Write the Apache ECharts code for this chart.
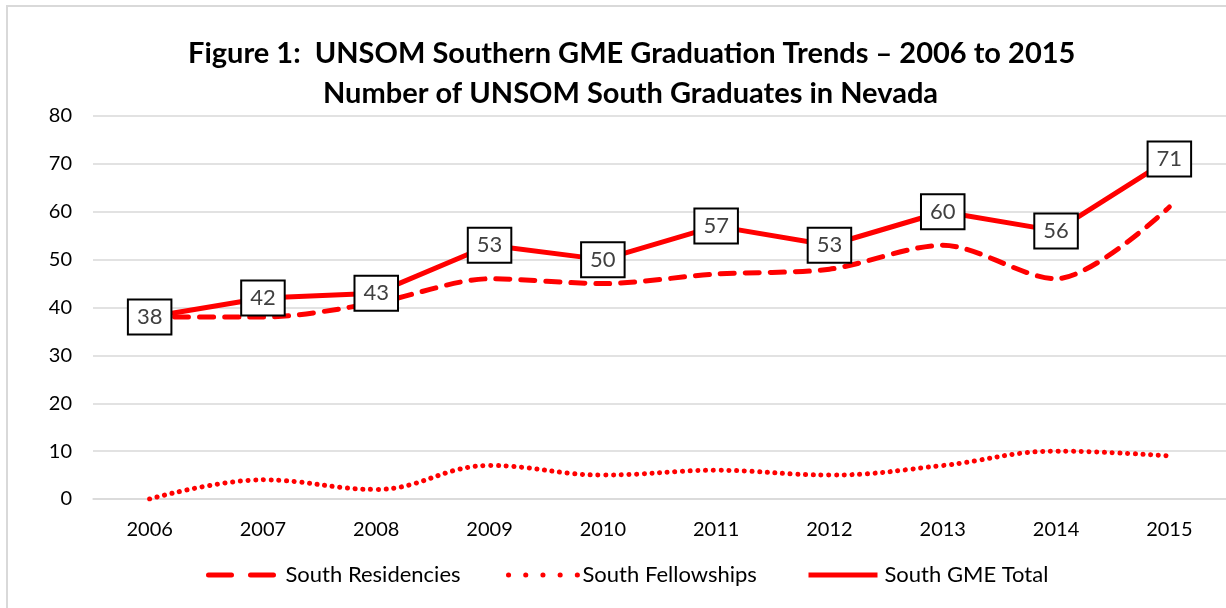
<!DOCTYPE html>
<html>
<head>
<meta charset="utf-8">
<script src="https://cdn.jsdelivr.net/npm/echarts@6/dist/echarts.min.js"></script>
<style>
  html, body { margin: 0; padding: 0; background: #fff; }
  #wrap { position: relative; width: 1226px; height: 608px; }
  #chart { width: 1226px; height: 608px; }
  #frame { position: absolute; left: 6px; top: 5px; right: 0; bottom: 0;
           border-left: 2px solid #d9d9d9; border-top: 2px solid #d9d9d9; pointer-events: none; }
</style>
</head>
<body>
<div id="wrap">
  <div id="chart"></div>
  <div id="frame"></div>
</div>
<script>
  // values
  var years = ['2006', '2007', '2008', '2009', '2010', '2011', '2012', '2013', '2014', '2015'];
  var residencies = [38, 38, 41, 46, 45, 47, 48, 53, 46, 61];
  var fellowships = [0, 4, 2, 7, 5, 6, 5, 7, 10, 9];
  var gmeTotal = [38, 42, 43, 53, 50, 57, 53, 60, 56, 71];
  var seriesNames = ['South Residencies', 'South Fellowships', 'South GME Total'];
  var titleLines = [
    'Figure 1:  UNSOM Southern GME Graduation Trends \u2013 2006 to 2015',
    'Number of UNSOM South Graduates in Nevada'
  ];

  var font = 'Lato, "Open Sans", sans-serif';
  var chart = echarts.init(document.getElementById('chart'));

  // one legend per item so each sits where it does in the figure
  function legendFor(name, left, width, textPad, dash) {
    return {
      top: 564,
      left: left,
      padding: 0,
      itemWidth: width,
      itemHeight: 12,
      itemStyle: { opacity: 0 },
      lineStyle: { width: 5, type: dash },
      textStyle: { fontSize: 22, color: '#000', padding: [0, 0, 0, textPad] },
      data: [name]
    };
  }

  function titleFor(text, left, top) {
    return {
      text: text,
      left: left,
      top: top,
      textStyle: { fontFamily: font, fontSize: 29, fontWeight: 'bold', color: '#000' }
    };
  }

  var option = {
    animation: false,
    textStyle: { fontFamily: font },
    title: [
      titleFor(titleLines[0], 183, 34),
      titleFor(titleLines[1], 318, 74)
    ],
    legend: [
      legendFor(seriesNames[0], 206, 65, 7, [23, 19]),
      legendFor(seriesNames[1], 506, 69, 0, [0.1, 17.1]),
      legendFor(seriesNames[2], 806, 69, 2, 'solid')
    ],
    grid: {
      left: 93,
      right: 0,
      top: 116,
      bottom: 109,
      containLabel: false
    },
    xAxis: {
      type: 'category',
      data: years,
      boundaryGap: true,
      axisLine: { lineStyle: { color: '#d9d9d9', width: 1.5 } },
      axisTick: { show: false },
      axisLabel: { fontSize: 20, color: '#000', margin: 21 }
    },
    yAxis: {
      type: 'value',
      min: 0,
      max: 80,
      interval: 10,
      axisLine: { show: false },
      axisTick: { show: false },
      axisLabel: { fontSize: 20, color: '#000', margin: 21 },
      splitLine: { lineStyle: { color: '#d9d9d9', width: 1.5 } }
    },
    series: [
      {
        name: seriesNames[0],
        type: 'line',
        data: residencies,
        smooth: 0.3,
        symbol: 'none',
        z: 2,
        lineStyle: { color: '#ff0000', width: 5, type: [14, 11], cap: 'round' },
        itemStyle: { color: '#ff0000' }
      },
      {
        name: seriesNames[1],
        type: 'line',
        data: fellowships,
        smooth: 0.4,
        symbol: 'none',
        z: 2,
        lineStyle: { color: '#ff0000', width: 5, type: [0.1, 7.6], cap: 'round' },
        itemStyle: { color: '#ff0000' }
      },
      {
        name: seriesNames[2],
        type: 'line',
        data: gmeTotal,
        symbol: 'circle',
        symbolSize: 1,
        showSymbol: true,
        z: 3,
        lineStyle: { color: '#ff0000', width: 5 },
        itemStyle: { color: '#ff0000' },
        label: {
          show: true,
          position: 'inside',
          fontSize: 22,
          color: '#404040',
          backgroundColor: '#fff',
          borderColor: '#000',
          borderWidth: 2,
          padding: [6, 8, 5, 8]
        }
      }
    ]
  };

  chart.setOption(option);
</script>
</body>
</html>
